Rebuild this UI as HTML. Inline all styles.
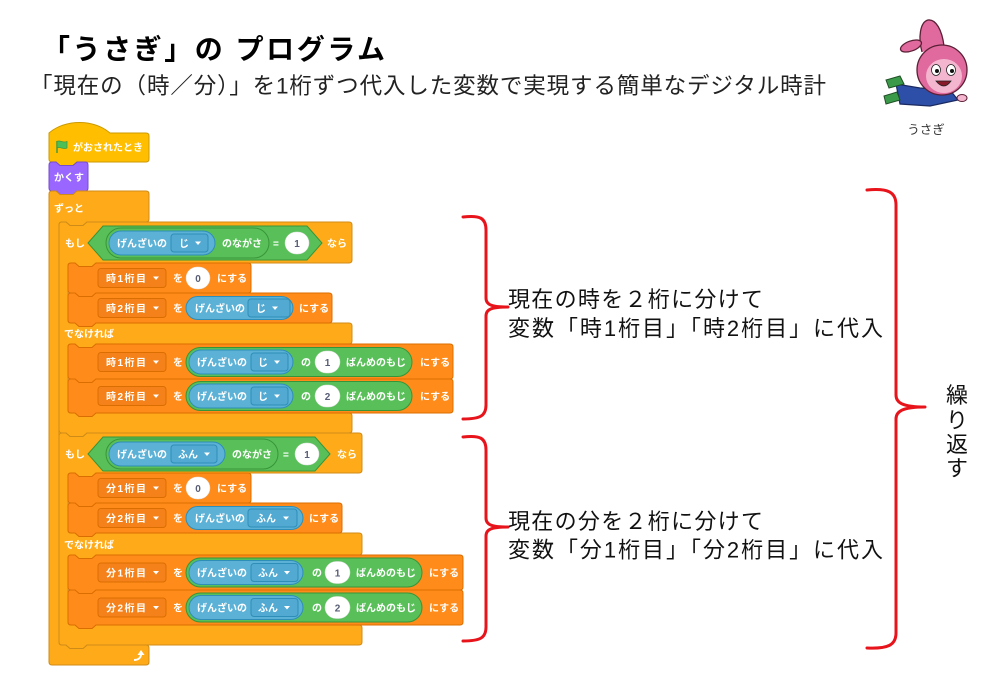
<!DOCTYPE html>
<html><head><meta charset="utf-8"><style>
html,body{margin:0;padding:0;background:#fff;}
body{width:1000px;height:692px;overflow:hidden;}
svg{display:block;}
.t{fill:#fff;font-size:10px;font-family:"Liberation Sans","Noto Sans CJK JP",sans-serif;font-weight:bold;}
.d{fill:#575E75;font-size:10px;font-family:"Liberation Sans","Noto Sans CJK JP",sans-serif;font-weight:bold;}
.j{font-family:"Liberation Sans","Noto Sans CJK JP",sans-serif;fill:#111;}
.ctl{fill:#FFAB19;stroke:#CF8B17;stroke-width:1;}
.var{fill:#FF8C1A;stroke:#DB6E00;stroke-width:1;}
.vdd{fill:#F5811A;stroke:#DB6E00;stroke-width:1;}
.op{fill:#59C059;stroke:#389438;stroke-width:1;}
.sen{fill:#5CB1D6;stroke:#2E8EB8;stroke-width:1;}
.sdd{fill:#52A9D1;stroke:#2E8EB8;stroke-width:1;}
.wh{fill:#fff;stroke:#e0e0e0;stroke-width:0.5;}
.car{fill:#fff;}
.br{fill:none;stroke:#E8141B;stroke-width:3;stroke-linecap:round;stroke-linejoin:round;}
</style></head><body>
<svg width="1000" height="692" viewBox="0 0 1000 692" xmlns="http://www.w3.org/2000/svg">

<!-- Title -->
<text class="j" x="42" y="59" font-size="28" font-weight="bold" textLength="343" lengthAdjust="spacing" style="fill:#000">「うさぎ」の プログラム</text>
<text class="j" x="30" y="93.5" font-size="22.5" textLength="796" lengthAdjust="spacing" style="fill:#222">「現在の（時／分）」を1桁ずつ代入した変数で実現する簡単なデジタル時計</text>

<!-- Rabbit character -->
<g>
  <path d="M922,52 C918,38 920,22 928,20 C936,19 942,30 944,46" fill="#E06A9E" stroke="#5a2035" stroke-width="1.3"/>
  <ellipse cx="911" cy="46" rx="11" ry="5" transform="rotate(-20 911 46)" fill="#E06A9E" stroke="#5a2035" stroke-width="1.3"/>
  <path d="M896,84 L920,88 L950,90 L958,100 L930,106 L900,104 Z" fill="#2D4FA8" stroke="#1a2a60" stroke-width="1.2"/>
  <path d="M886,80 L900,76 L904,84 L889,88 Z" fill="#3a9a4a" stroke="#1f4f24" stroke-width="1"/>
  <path d="M884,96 L897,92 L900,100 L886,104 Z" fill="#3a9a4a" stroke="#1f4f24" stroke-width="1"/>
  <circle cx="942" cy="70" r="25" fill="#E06A9E" stroke="#5a2035" stroke-width="1.3"/>
  <ellipse cx="944" cy="76" rx="18" ry="17" fill="#F4B6CF"/>
  <ellipse cx="936" cy="70" rx="4.5" ry="5.5" fill="#fff" stroke="#222" stroke-width="0.8"/>
  <ellipse cx="951" cy="70" rx="4.5" ry="5.5" fill="#fff" stroke="#222" stroke-width="0.8"/>
  <circle cx="937" cy="71" r="2" fill="#111"/>
  <circle cx="952" cy="71" r="2" fill="#111"/>
  <path d="M936,81 Q944,91 951,81 Z" fill="#8a1a2a" stroke="#222" stroke-width="0.8"/>
  <ellipse cx="962" cy="98" rx="5" ry="3.5" fill="#F4B6CF" stroke="#5a2035" stroke-width="1"/>
</g>
<text class="j" x="926" y="134" font-size="12.5" text-anchor="middle" style="fill:#333">うさぎ</text>

<!-- Hat block -->
<path class="ctl" style="fill:#FFBF00;stroke:#CC9900" d="M 49,133 C 65,119 94,119 110,133 H 146 Q 149,133 149,136 V 159 Q 149,162 146,162 H 77 L 73,165.5 H 60 L 56,162 H 52 Q 49,162 49,159 Z"/>
<line x1="57" y1="141" x2="57" y2="153" stroke="#45993D" stroke-width="1.5"/>
<path d="M57,141.5 C60,139.5 63,143.5 67,141.5 V148 C63,150 60,146 57,148 Z" fill="#4CBF56" stroke="#45993D" stroke-width="0.8"/>
<text class="t" x="73" y="151">がおされたとき</text>

<!-- Looks: hide -->
<path style="fill:#9966FF;stroke:#774DCB;stroke-width:1" d="M 49,165 Q 49,162 52,162 H 56 L 60,165.5 H 73 L 77,162 H 85 Q 88,162 88,165 V 188 Q 88,191 85,191 H 77 L 73,194.5 H 60 L 56,191 H 52 Q 49,191 49,188 Z"/>
<text class="t" x="54" y="181">かくす</text>

<!-- Forever -->
<path class="ctl" d="M 49,194 Q 49,191 52,191 H 56 L 60,194.5 H 73 L 77,191 H 146 Q 149,191 149,194 V 219 Q 149,222 146,222 H 87 L 83,225.5 H 70 L 66,222 H 62 Q 59,222 59,225 V 642 Q 59,645 62,645 H 66 L 70,648.5 H 83 L 87,645 H 146 Q 149,645 149,648 V 662 Q 149,665 146,665 H 52 Q 49,665 49,662 Z"/>
<text class="t" x="54" y="212">ずっと</text>
<path d="M134,660 C138,660 141,658 141,654" fill="none" stroke="#fff" stroke-width="2"/>
<polygon points="137.5,655 144.5,655 141,650" fill="#fff"/>

<!-- If 1 -->
<path class="ctl" d="M 59,225 Q 59,222 62,222 H 66 L 70,225.5 H 83 L 87,222 H 349 Q 352,222 352,225 V 260 Q 352,263 349,263 H 96 L 92,266.5 H 79 L 75,263 H 71 Q 68,263 68,266 V 320 Q 68,323 71,323 H 75 L 79,326.5 H 92 L 96,323 H 349 Q 352,323 352,326 V 341 Q 352,344 349,344 H 96 L 92,347.5 H 79 L 75,344 H 71 Q 68,344 68,347 V 410 Q 68,413 71,413 H 75 L 79,416.5 H 92 L 96,413 H 349 Q 352,413 352,416 V 430 Q 352,433 349,433 H 87 L 83,436.5 H 70 L 66,433 H 62 Q 59,433 59,430 Z"/>
<text class="t" x="65" y="247">もし</text>
<polygon class="op" points="88,243 103,226 307,226 322,243 307,260 103,260"/>
<rect class="op" x="106" y="228" width="163" height="30" rx="15"/>
<rect class="sen" x="109" y="231" width="106" height="24" rx="12"/>
<text class="t" x="117" y="247">げんざいの</text>
<rect class="sdd" x="171" y="234" width="37" height="18" rx="3"/>
<text class="t" x="179" y="247">じ</text>
<polygon class="car" points="195,241.5 201,241.5 198,245"/>
<text class="t" x="222" y="247">のながさ</text>
<text class="t" x="273" y="247">=</text>
<rect class="wh" x="285" y="232" width="24" height="22" rx="11"/>
<text class="d" x="297" y="247" text-anchor="middle">1</text>
<text class="t" x="327" y="247">なら</text>

<!-- S1 -->
<path class="var" d="M 68,266 Q 68,263 71,263 H 75 L 79,266.5 H 92 L 96,263 H 248 Q 251,263 251,266 V 290 Q 251,293 248,293 H 96 L 92,296.5 H 79 L 75,293 H 71 Q 68,293 68,290 Z"/>
<rect class="vdd" x="98" y="268.5" width="68" height="19" rx="3"/>
<text class="t" x="106" y="282" textLength="40" lengthAdjust="spacing">時1桁目</text>
<polygon class="car" points="153,276.5 159,276.5 156,280"/>
<text class="t" x="173" y="282">を</text>
<rect class="wh" x="186" y="267" width="24" height="22" rx="11"/>
<text class="d" x="198" y="282" text-anchor="middle">0</text>
<text class="t" x="217" y="282">にする</text>

<!-- S2 -->
<path class="var" d="M 68,296 Q 68,293 71,293 H 75 L 79,296.5 H 92 L 96,293 H 329 Q 332,293 332,296 V 320 Q 332,323 329,323 H 96 L 92,326.5 H 79 L 75,323 H 71 Q 68,323 68,320 Z"/>
<rect class="vdd" x="98" y="298.5" width="68" height="19" rx="3"/>
<text class="t" x="106" y="312" textLength="40" lengthAdjust="spacing">時2桁目</text>
<polygon class="car" points="153,306.5 159,306.5 156,310"/>
<text class="t" x="173" y="312">を</text>
<rect class="sen" x="186" y="296.5" width="107" height="23" rx="11.5"/>
<text class="t" x="195" y="312">げんざいの</text>
<rect class="sdd" x="248" y="299" width="42" height="18" rx="3"/>
<text class="t" x="256" y="312">じ</text>
<polygon class="car" points="272,306.5 278,306.5 275,310"/>
<text class="t" x="299" y="312">にする</text>

<text class="t" x="64" y="337.5">でなければ</text>

<!-- S3 -->
<path class="var" d="M 68,347 Q 68,344 71,344 H 75 L 79,347.5 H 92 L 96,344 H 450 Q 453,344 453,347 V 376 Q 453,379 450,379 H 96 L 92,382.5 H 79 L 75,379 H 71 Q 68,379 68,376 Z"/>
<rect class="vdd" x="98" y="352.5" width="68" height="19" rx="3"/>
<text class="t" x="106" y="366" textLength="40" lengthAdjust="spacing">時1桁目</text>
<polygon class="car" points="153,360.5 159,360.5 156,364"/>
<text class="t" x="173" y="366">を</text>
<rect class="op" x="186" y="347.5" width="226" height="29" rx="14.5"/>
<rect class="sen" x="189" y="350" width="104" height="24" rx="12"/>
<text class="t" x="197" y="366">げんざいの</text>
<rect class="sdd" x="251" y="353" width="37" height="18" rx="3"/>
<text class="t" x="258" y="366">じ</text>
<polygon class="car" points="274,360.5 280,360.5 277,364"/>
<text class="t" x="301" y="366">の</text>
<rect class="wh" x="315" y="351" width="25" height="22" rx="11"/>
<text class="d" x="327.5" y="366" text-anchor="middle">1</text>
<text class="t" x="346" y="366">ばんめのもじ</text>
<text class="t" x="420" y="366">にする</text>

<!-- S4 -->
<path class="var" d="M 68,382 Q 68,379 71,379 H 75 L 79,382.5 H 92 L 96,379 H 450 Q 453,379 453,382 V 410 Q 453,413 450,413 H 96 L 92,416.5 H 79 L 75,413 H 71 Q 68,413 68,410 Z"/>
<rect class="vdd" x="98" y="386.5" width="68" height="19" rx="3"/>
<text class="t" x="106" y="400" textLength="40" lengthAdjust="spacing">時2桁目</text>
<polygon class="car" points="153,394.5 159,394.5 156,398"/>
<text class="t" x="173" y="400">を</text>
<rect class="op" x="186" y="381.5" width="226" height="29" rx="14.5"/>
<rect class="sen" x="189" y="384" width="104" height="24" rx="12"/>
<text class="t" x="197" y="400">げんざいの</text>
<rect class="sdd" x="251" y="387" width="37" height="18" rx="3"/>
<text class="t" x="258" y="400">じ</text>
<polygon class="car" points="274,394.5 280,394.5 277,398"/>
<text class="t" x="301" y="400">の</text>
<rect class="wh" x="315" y="385" width="25" height="22" rx="11"/>
<text class="d" x="327.5" y="400" text-anchor="middle">2</text>
<text class="t" x="346" y="400">ばんめのもじ</text>
<text class="t" x="420" y="400">にする</text>

<!-- If 2 -->
<path class="ctl" d="M 59,436 Q 59,433 62,433 H 66 L 70,436.5 H 83 L 87,433 H 359 Q 362,433 362,436 V 470 Q 362,473 359,473 H 96 L 92,476.5 H 79 L 75,473 H 71 Q 68,473 68,476 V 530 Q 68,533 71,533 H 75 L 79,536.5 H 92 L 96,533 H 359 Q 362,533 362,536 V 552 Q 362,555 359,555 H 96 L 92,558.5 H 79 L 75,555 H 71 Q 68,555 68,558 V 622 Q 68,625 71,625 H 75 L 79,628.5 H 92 L 96,625 H 359 Q 362,625 362,628 V 642 Q 362,645 359,645 H 87 L 83,648.5 H 70 L 66,645 H 62 Q 59,645 59,642 Z"/>
<text class="t" x="65" y="458">もし</text>
<polygon class="op" points="88,454 103,437 315,437 330,454 315,471 103,471"/>
<rect class="op" x="106" y="439" width="172" height="30" rx="15"/>
<rect class="sen" x="109" y="442" width="116" height="24" rx="12"/>
<text class="t" x="117" y="458">げんざいの</text>
<rect class="sdd" x="171" y="445" width="46" height="18" rx="3"/>
<text class="t" x="178" y="458">ふん</text>
<polygon class="car" points="204,452.5 210,452.5 207,456"/>
<text class="t" x="232" y="458">のながさ</text>
<text class="t" x="283" y="458">=</text>
<rect class="wh" x="295" y="443" width="24" height="22" rx="11"/>
<text class="d" x="307" y="458" text-anchor="middle">1</text>
<text class="t" x="337" y="458">なら</text>

<!-- S5 -->
<path class="var" d="M 68,476 Q 68,473 71,473 H 75 L 79,476.5 H 92 L 96,473 H 248 Q 251,473 251,476 V 500 Q 251,503 248,503 H 96 L 92,506.5 H 79 L 75,503 H 71 Q 68,503 68,500 Z"/>
<rect class="vdd" x="98" y="478.5" width="68" height="19" rx="3"/>
<text class="t" x="106" y="492" textLength="40" lengthAdjust="spacing">分1桁目</text>
<polygon class="car" points="153,486.5 159,486.5 156,490"/>
<text class="t" x="173" y="492">を</text>
<rect class="wh" x="186" y="477" width="24" height="22" rx="11"/>
<text class="d" x="198" y="492" text-anchor="middle">0</text>
<text class="t" x="217" y="492">にする</text>

<!-- S6 -->
<path class="var" d="M 68,506 Q 68,503 71,503 H 75 L 79,506.5 H 92 L 96,503 H 339 Q 342,503 342,506 V 530 Q 342,533 339,533 H 96 L 92,536.5 H 79 L 75,533 H 71 Q 68,533 68,530 Z"/>
<rect class="vdd" x="98" y="508.5" width="68" height="19" rx="3"/>
<text class="t" x="106" y="522" textLength="40" lengthAdjust="spacing">分2桁目</text>
<polygon class="car" points="153,516.5 159,516.5 156,520"/>
<text class="t" x="173" y="522">を</text>
<rect class="sen" x="186" y="506.5" width="117" height="23" rx="11.5"/>
<text class="t" x="195" y="522">げんざいの</text>
<rect class="sdd" x="248" y="509" width="49" height="18" rx="3"/>
<text class="t" x="256" y="522">ふん</text>
<polygon class="car" points="283,516.5 289,516.5 286,520"/>
<text class="t" x="309" y="522">にする</text>

<text class="t" x="64" y="548.5">でなければ</text>

<!-- S7 -->
<path class="var" d="M 68,558 Q 68,555 71,555 H 75 L 79,558.5 H 92 L 96,555 H 460 Q 463,555 463,558 V 587 Q 463,590 460,590 H 96 L 92,593.5 H 79 L 75,590 H 71 Q 68,590 68,587 Z"/>
<rect class="vdd" x="98" y="563" width="68" height="19" rx="3"/>
<text class="t" x="106" y="576.5" textLength="40" lengthAdjust="spacing">分1桁目</text>
<polygon class="car" points="153,571 159,571 156,574.5"/>
<text class="t" x="173" y="576.5">を</text>
<rect class="op" x="186" y="558" width="236" height="29" rx="14.5"/>
<rect class="sen" x="189" y="560.5" width="114" height="24" rx="12"/>
<text class="t" x="197" y="576.5">げんざいの</text>
<rect class="sdd" x="251" y="563.5" width="47" height="18" rx="3"/>
<text class="t" x="258" y="576.5">ふん</text>
<polygon class="car" points="284,571 290,571 287,574.5"/>
<text class="t" x="312" y="576.5">の</text>
<rect class="wh" x="325" y="561.5" width="25" height="22" rx="11"/>
<text class="d" x="337.5" y="576.5" text-anchor="middle">1</text>
<text class="t" x="356" y="576.5">ばんめのもじ</text>
<text class="t" x="429" y="576.5">にする</text>

<!-- S8 -->
<path class="var" d="M 68,593 Q 68,590 71,590 H 75 L 79,593.5 H 92 L 96,590 H 460 Q 463,590 463,593 V 622 Q 463,625 460,625 H 96 L 92,628.5 H 79 L 75,625 H 71 Q 68,625 68,622 Z"/>
<rect class="vdd" x="98" y="598" width="68" height="19" rx="3"/>
<text class="t" x="106" y="611.5" textLength="40" lengthAdjust="spacing">分2桁目</text>
<polygon class="car" points="153,606 159,606 156,609.5"/>
<text class="t" x="173" y="611.5">を</text>
<rect class="op" x="186" y="593" width="236" height="29" rx="14.5"/>
<rect class="sen" x="189" y="595.5" width="114" height="24" rx="12"/>
<text class="t" x="197" y="611.5">げんざいの</text>
<rect class="sdd" x="251" y="598.5" width="47" height="18" rx="3"/>
<text class="t" x="258" y="611.5">ふん</text>
<polygon class="car" points="284,606 290,606 287,609.5"/>
<text class="t" x="312" y="611.5">の</text>
<rect class="wh" x="325" y="596.5" width="25" height="22" rx="11"/>
<text class="d" x="337.5" y="611.5" text-anchor="middle">2</text>
<text class="t" x="356" y="611.5">ばんめのもじ</text>
<text class="t" x="429" y="611.5">にする</text>

<!-- Braces -->
<path class="br" d="M 463,217 C 480,215 486,218 486,230 L 486,298 C 486,305 492,307 508,307 C 492,307 486,309 486,316 L 486,405 C 486,416 480,419 463,419"/>
<path class="br" d="M 463,437 C 480,435 486,438 486,450 L 486,518 C 486,525 492,527 508,527 C 492,527 486,529 486,536 L 486,627 C 486,638 480,641 463,641"/>
<path class="br" d="M 867,190 C 888,188 896,192 896,205 L 896,395 C 896,403 903,407 925,407 C 903,407 896,411 896,419 L 896,633 C 896,645 888,649 867,648"/>

<!-- Annotations -->
<text class="j" x="508" y="307" font-size="22" textLength="255" lengthAdjust="spacing">現在の時を２桁に分けて</text>
<text class="j" x="508" y="336" font-size="22" textLength="375" lengthAdjust="spacing">変数「時1桁目」「時2桁目」に代入</text>
<text class="j" x="508" y="529" font-size="22" textLength="255" lengthAdjust="spacing">現在の分を２桁に分けて</text>
<text class="j" x="508" y="557.5" font-size="22" textLength="375" lengthAdjust="spacing">変数「分1桁目」「分2桁目」に代入</text>

<text class="j" x="957" y="403" font-size="22" text-anchor="middle">繰</text>
<text class="j" x="957" y="428" font-size="22" text-anchor="middle">り</text>
<text class="j" x="957" y="452" font-size="22" text-anchor="middle">返</text>
<text class="j" x="957" y="476" font-size="22" text-anchor="middle">す</text>

</svg>
</body></html>
